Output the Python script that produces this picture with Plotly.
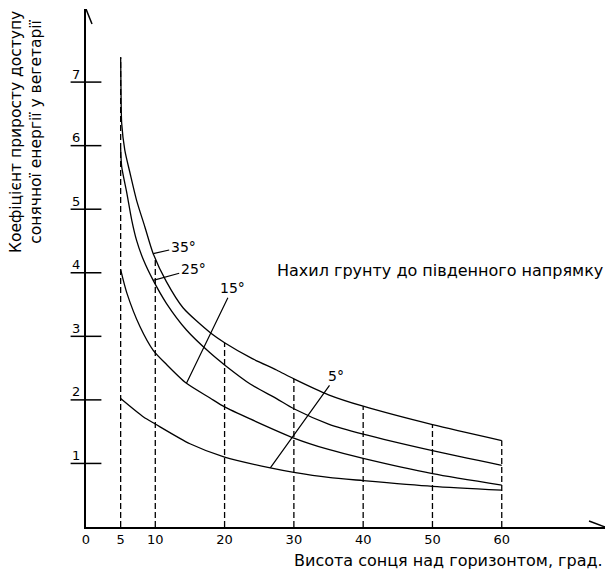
import numpy as np
import plotly.graph_objects as go

# ---- data ----
x35 = [5, 5.05, 5.15, 5.6, 6.35, 7.3, 8.5, 9.7, 11.6, 14, 17.9, 20, 24, 27.5, 30, 35, 40, 50, 60]
y35 = [7.39, 6.9, 6.35, 5.93, 5.57, 5.14, 4.72, 4.3, 3.86, 3.45, 3.06, 2.9, 2.65, 2.47, 2.33, 2.08, 1.9, 1.61, 1.36]

x25 = [5, 5.15, 5.9, 6.6, 7.3, 8.3, 9.7, 11.6, 14.5, 17.9, 20, 23.7, 27.5, 30, 35, 40, 50, 60]
y25 = [5.95, 5.67, 5.25, 4.83, 4.51, 4.2, 3.88, 3.52, 3.1, 2.74, 2.55, 2.25, 2.02, 1.86, 1.62, 1.46, 1.2, 0.97]

x15 = [5, 5.9, 7.8, 9.7, 11.6, 14.5, 17.9, 20, 23.7, 30, 35, 40, 50, 60]
y15 = [4.05, 3.68, 3.15, 2.78, 2.56, 2.26, 2.03, 1.89, 1.7, 1.4, 1.22, 1.08, 0.84, 0.66]

x5 = [5, 8.3, 10, 15, 20, 26.6, 30, 35, 40, 50, 60]
y5 = [2.02, 1.73, 1.62, 1.31, 1.1, 0.93, 0.86, 0.78, 0.73, 0.64, 0.58]

x_ticks = [0, 5, 10, 20, 30, 40, 50, 60]
y_ticks = [1, 2, 3, 4, 5, 6, 7]
dashed_x = [5, 10, 20, 30, 40, 50, 60]

curve_labels = ["35°", "25°", "15°", "5°"]
label_at_x = [9.7, 9.7, 14.5, 26.6]

title_y = ["Коефіцієнт приросту доступу", "сонячної енергії у вегетарії"]
title_x = "Висота сонця над горизонтом, град."
note = "Нахил грунту до південного напрямку"

FONT = "DejaVu Sans"
X_MAX = 74.9
Y_MAX = 8.15

fig = go.Figure()

curves = [(x35, y35), (x25, y25), (x15, y15), (x5, y5)]
for cx, cy in curves:
    fig.add_trace(go.Scatter(x=cx, y=cy, mode="lines",
                             line=dict(color="black", width=1.3, shape="spline", smoothing=0.7),
                             hoverinfo="skip", showlegend=False))

# dashed verticals up to the top (35 deg) curve
for dx in dashed_x:
    top = float(np.interp(dx, x35, y35))
    fig.add_trace(go.Scatter(x=[dx, dx], y=[0, top], mode="lines",
                             line=dict(color="black", width=1.3, dash="6px,3px"),
                             hoverinfo="skip", showlegend=False))

# y tick marks crossing the axis
fig.add_trace(go.Scatter(x=[0] * len(y_ticks), y=y_ticks, mode="markers",
                         marker=dict(symbol="line-ew", size=22,
                                     line=dict(color="black", width=1.5)),
                         cliponaxis=False, hoverinfo="skip", showlegend=False))

annotations = []
for v in y_ticks:
    annotations.append(dict(x=0, y=v, xref="x", yref="y", text=str(v), showarrow=False,
                            xshift=-10, yshift=8, font=dict(family=FONT, size=13, color="black")))

# curve labels with leader lines
offsets = [(30, -7), (40, -11), (46, -95), (66, -92)]
for (cx, cy), lab, lx, (ax, ay) in zip(curves, curve_labels, label_at_x, offsets):
    yy = float(np.interp(lx, cx, cy))
    annotations.append(dict(x=lx, y=yy, xref="x", yref="y", text=lab, showarrow=True,
                            arrowhead=0, arrowwidth=1.2, arrowcolor="black", ax=ax, ay=ay,
                            font=dict(family=FONT, size=14, color="black")))

annotations.append(dict(x=(440 - 86) / 519, y=(527 - 270) / 518, xref="paper", yref="paper",
                        xanchor="center", yanchor="middle",
                        text=note, showarrow=False,
                        font=dict(family=FONT, size=16, color="black")))
annotations.append(dict(x=1.0, y=-0.064, xref="paper", yref="paper", xanchor="right",
                        yanchor="middle", text=title_x, showarrow=False,
                        font=dict(family=FONT, size=16, color="black")))
annotations.append(dict(x=-0.1156, y=0.7625, xref="paper", yref="paper", textangle=-90,
                        xanchor="center", yanchor="middle",
                        text="<br>".join(title_y), showarrow=False,
                        font=dict(family=FONT, size=15.5, color="black")))

# arrow heads on axes (open V)
shapes = [
    dict(type="line", xref="x", yref="y", xsizemode="pixel", ysizemode="pixel",
         xanchor=X_MAX, yanchor=0, x0=-16, y0=6, x1=0, y1=0, line=dict(color="black", width=1.5)),
    dict(type="line", xref="x", yref="y", xsizemode="pixel", ysizemode="pixel",
         xanchor=X_MAX, yanchor=0, x0=-16, y0=-6, x1=0, y1=0, line=dict(color="black", width=1.5)),
    dict(type="line", xref="x", yref="y", xsizemode="pixel", ysizemode="pixel",
         xanchor=0, yanchor=Y_MAX, x0=-6, y0=-15, x1=0, y1=0, line=dict(color="black", width=1.5)),
    dict(type="line", xref="x", yref="y", xsizemode="pixel", ysizemode="pixel",
         xanchor=0, yanchor=Y_MAX, x0=6, y0=-15, x1=0, y1=0, line=dict(color="black", width=1.5)),
]

fig.update_layout(
    width=611, height=573,
    margin=dict(l=86, r=6, t=9, b=46),
    paper_bgcolor="white", plot_bgcolor="white",
    showlegend=False,
    annotations=annotations,
    shapes=shapes,
    xaxis=dict(range=[0, X_MAX], showgrid=False, zeroline=False, showline=True,
               linecolor="black", linewidth=1.5, tickvals=x_ticks,
               ticktext=[str(t) for t in x_ticks], ticks="", ticklabelstandoff=0,
               tickfont=dict(family=FONT, size=13, color="black")),
    yaxis=dict(range=[0, Y_MAX], showgrid=False, zeroline=False, showline=True,
               linecolor="black", linewidth=1.5, showticklabels=False, ticks=""),
)

fig.write_html("out.html")
